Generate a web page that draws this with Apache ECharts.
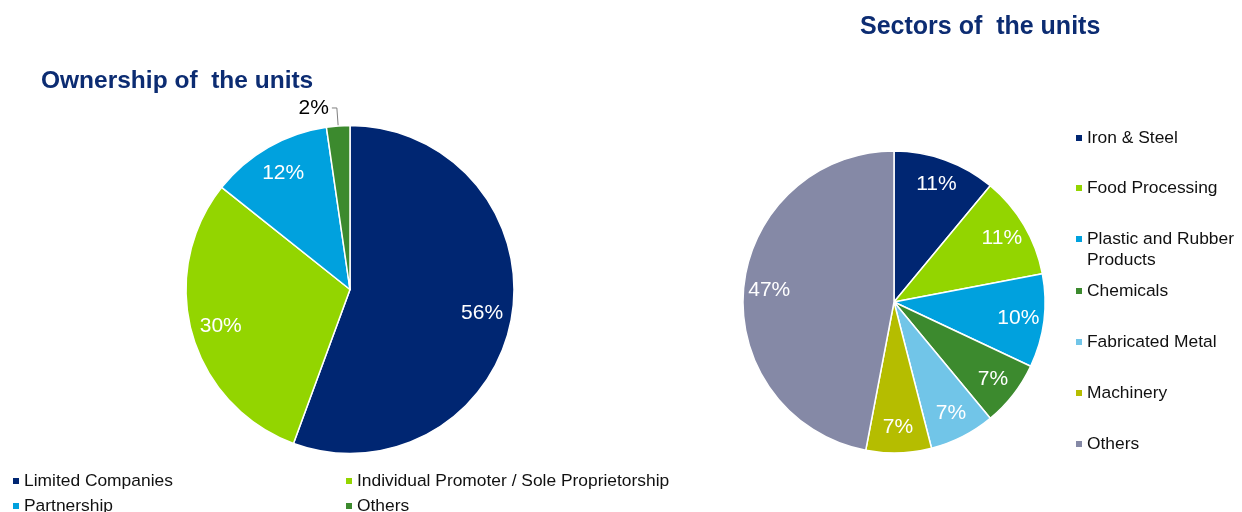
<!DOCTYPE html>
<html><head><meta charset="utf-8">
<script src="https://cdn.jsdelivr.net/npm/echarts@6/dist/echarts.min.js"></script>
<style>html,body{margin:0;padding:0;background:#fff}#c{width:1242px;height:512px}</style>
</head><body><div id="c"></div>
<script>
const ownershipNames = ['Limited Companies', 'Individual Promoter / Sole Proprietorship', 'Partnership', 'Others'];
const ownershipValues = [55.6, 30.1, 12.0, 2.3];
const ownershipLabels = ['56%', '30%', '12%', '2%'];
const ownershipColors = ['#002672', '#93D500', '#00A1DE', '#3C8A2E'];

const sectorNames = ['Iron & Steel', 'Food Processing', 'Plastic and Rubber Products', 'Chemicals', 'Fabricated Metal', 'Machinery', 'Others '];
const sectorLegendText = ['Iron & Steel', 'Food Processing', ' \nPlastic and Rubber\nProducts', 'Chemicals', 'Fabricated Metal', 'Machinery', 'Others'];
const sectorValues = [11, 11, 10, 7, 7, 7, 47];
const sectorLabels = ['11%', '11%', '10%', '7%', '7%', '7%', '47%'];
const sectorColors = ['#002672', '#93D500', '#00A1DE', '#3C8A2E', '#71C5E8', '#B5BD00', '#8589A6'];

const FONT = 'Liberation Sans, Arial, sans-serif';
const TITLE = '#0c2c72';

const L = {c: [350, 289.5], r: 164};
const R = {c: [894, 302], r: 151};

function visible(names, values, colors, geo) {
  return {
    type: 'pie', center: geo.c, radius: [0, geo.r], startAngle: 90, clockwise: true,
    silent: true, animation: false, label: {show: false}, labelLine: {show: false},
    itemStyle: {borderColor: '#fff', borderWidth: 1.5},
    data: names.map((n, i) => ({name: n, value: values[i], itemStyle: {color: colors[i]}}))
  };
}
function overlay(names, values, labels, geo, inner, outsideIdx) {
  return {
    type: 'pie', center: geo.c, radius: [geo.r * inner, geo.r], startAngle: 90, clockwise: true,
    silent: true, animation: false, avoidLabelOverlap: false,
    itemStyle: {color: 'rgba(0,0,0,0)', borderWidth: 0},
    label: {show: true, position: 'inside', formatter: p => labels[p.dataIndex], color: '#fff',
      fontFamily: FONT, fontSize: 21},
    labelLine: {show: false},
    data: names.map((n, i) => {
      const d = {name: n, value: values[i]};
      if (i === outsideIdx) {
        d.label = {position: 'outside', color: '#000', fontSize: 21, distanceToLabelLine: 3};
        d.labelLine = {show: true, length: 18, length2: 5, lineStyle: {color: '#7f7f7f', width: 1}};
      }
      return d;
    })
  };
}

const legText = {color: '#111', fontFamily: FONT, fontSize: 17.4, lineHeight: 18};
function oneLegend(name, left, centerY, text, lh) {
  const lines = text ? text.split('\n').length : 1;
  const lineH = lh || 18;
  const lg = {orient: 'vertical', itemWidth: 6, itemHeight: 6, icon: 'rect', selectedMode: false,
    itemStyle: {borderWidth: 0}, padding: 0, left: left, top: centerY - lines * lineH / 2, data: [name],
    textStyle: Object.assign({}, legText, {lineHeight: lineH})};
  if (text) lg.formatter = () => text;
  return lg;
}

const legends = [
  oneLegend(ownershipNames[0], 13, 481),
  oneLegend(ownershipNames[2], 13, 506),
  oneLegend(ownershipNames[1], 346, 481),
  oneLegend(ownershipNames[3], 346, 506)
];
const rowCenters = [138, 188, 239, 291, 342, 393, 444];
sectorNames.forEach((n, i) => {
  const multi = sectorLegendText[i].indexOf('\n') >= 0;
  legends.push(oneLegend(n, 1076, rowCenters[i], sectorLegendText[i], multi ? 21 : 18));
});

const chart = echarts.init(document.getElementById('c'), null, {renderer: 'canvas'});
chart.setOption({
  backgroundColor: '#fff',
  animation: false,
  title: [
    {text: 'Ownership of  the units', left: 41, top: 69, padding: 0,
      textStyle: {color: TITLE, fontFamily: FONT, fontWeight: 'bold', fontSize: 24.5}},
    {text: 'Sectors of  the units', left: 860, top: 15, padding: 0,
      textStyle: {color: TITLE, fontFamily: FONT, fontWeight: 'bold', fontSize: 25}}
  ],
  legend: legends,
  series: [
    visible(ownershipNames, ownershipValues, ownershipColors, L),
    visible(sectorNames, sectorValues, sectorColors, R),
    overlay(ownershipNames, ownershipValues, ownershipLabels, L, 0.6, 3),
    overlay(sectorNames, sectorValues, sectorLabels, R, 0.62, -1)
  ]
});
</script></body></html>
